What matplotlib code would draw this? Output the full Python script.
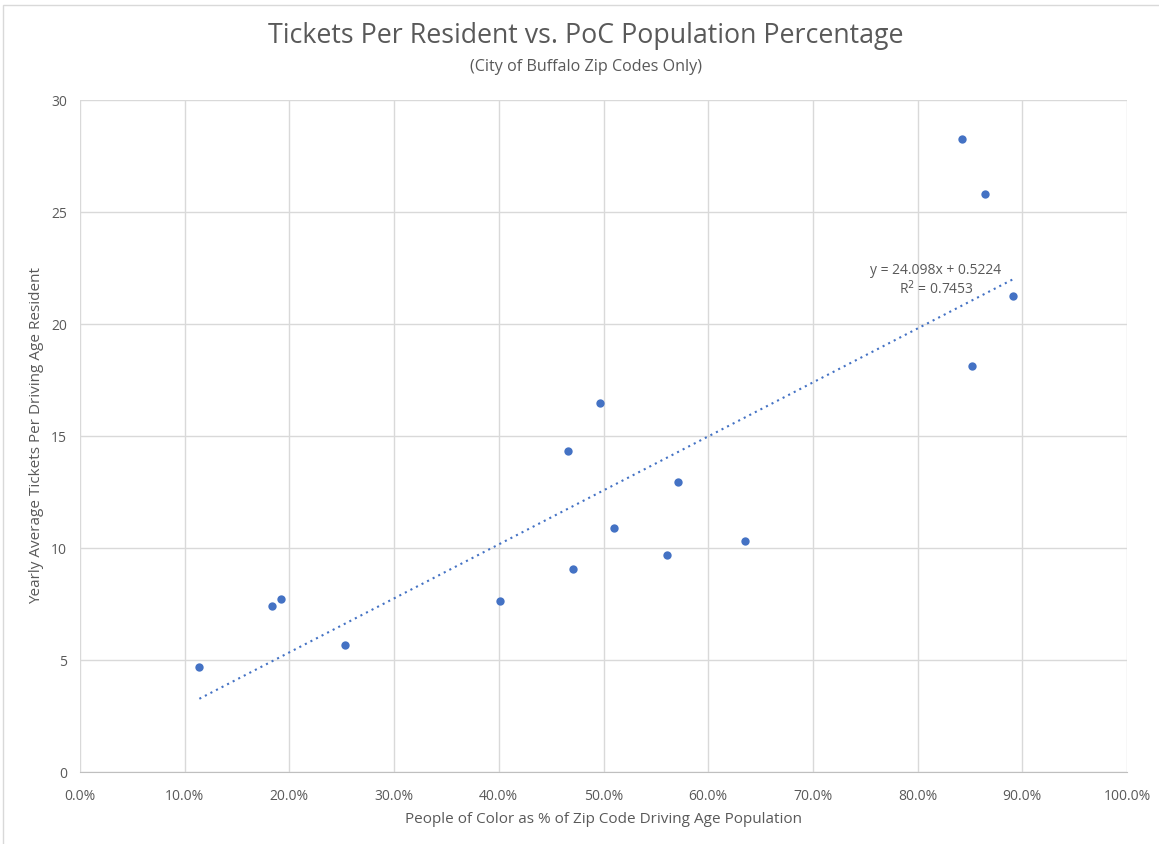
import matplotlib
matplotlib.use("Agg")
import matplotlib.pyplot as plt
import numpy as np
from matplotlib.ticker import FuncFormatter, MultipleLocator
from matplotlib.patches import Rectangle

poc_share = [0.114, 0.183, 0.192, 0.253, 0.401, 0.466, 0.471, 0.497, 0.510,
             0.561, 0.571, 0.635, 0.842, 0.864, 0.852, 0.891]
tickets = [4.69, 7.41, 7.72, 5.67, 7.63, 14.33, 9.06, 16.47, 10.89,
           9.69, 12.95, 10.31, 28.26, 25.80, 18.13, 21.25]
slope, intercept = 24.098, 0.5224
r_squared = 0.7453

title = "Tickets Per Resident vs. PoC Population Percentage"
subtitle = "(City of Buffalo Zip Codes Only)"
xlabel = "People of Color as % of Zip Code Driving Age Population"
ylabel = "Yearly Average Tickets Per Driving Age Resident"

blue = "#4472C4"
grey_text = "#595959"
grid_c = "#D9D9D9"
font = ["Open Sans", "DejaVu Sans"]
plt.rcParams["font.family"] = font

fig = plt.figure(figsize=(11.59, 8.44), dpi=100)
ax = fig.add_axes([80/1159, 1-772/844, (1127-80)/1159, (772-100)/844])

ax.scatter(poc_share, tickets, s=36, color=blue, zorder=3, linewidths=0)
xs = np.array([min(poc_share), max(poc_share)])
ax.plot(xs, slope*xs + intercept, color=blue, linestyle=(0, (1, 2)), linewidth=1.5, zorder=2)

ax.set_xlim(0, 1)
ax.set_ylim(0, 30)
ax.xaxis.set_major_locator(MultipleLocator(0.1))
ax.yaxis.set_major_locator(MultipleLocator(5))
ax.xaxis.set_major_formatter(FuncFormatter(lambda v, p: f"{v*100:.1f}%"))
ax.grid(True, color=grid_c, linewidth=1)
ax.set_axisbelow(True)
for s in ["top", "right", "left"]:
    ax.spines[s].set_visible(False)
ax.spines["bottom"].set_color("#BFBFBF")
ax.tick_params(length=0, colors=grey_text, labelsize=10)
ax.tick_params(axis="x", pad=12)
ax.tick_params(axis="y", pad=9.5)

ax.set_xlabel(xlabel, fontsize=11, color=grey_text, labelpad=6)
ax.set_ylabel(ylabel, fontsize=11, color=grey_text, labelpad=0)
ax.yaxis.set_label_coords(-36/1047, 0.5)

fig.text(0.5055, 1-36/844, title, ha="center", va="center", fontsize=19.3, color=grey_text)
fig.text(0.5055, 1-67/844, subtitle, ha="center", va="center", fontsize=11.6, color=grey_text)

ax.text(0.8176, 22.41, f"y = {slope}x + {intercept}", fontsize=10, color=grey_text, ha="center", va="center")
ax.text(0.8176, 21.56, f"R$^2$ = {r_squared}", fontsize=10, color=grey_text, ha="center", va="center")

fig.patches.append(Rectangle((3/1159, -0.01), 1.02, 1-5/844+0.01, transform=fig.transFigure,
                             fill=False, edgecolor="#D9D9D9", linewidth=1))

fig.savefig("out.png", dpi=100)
